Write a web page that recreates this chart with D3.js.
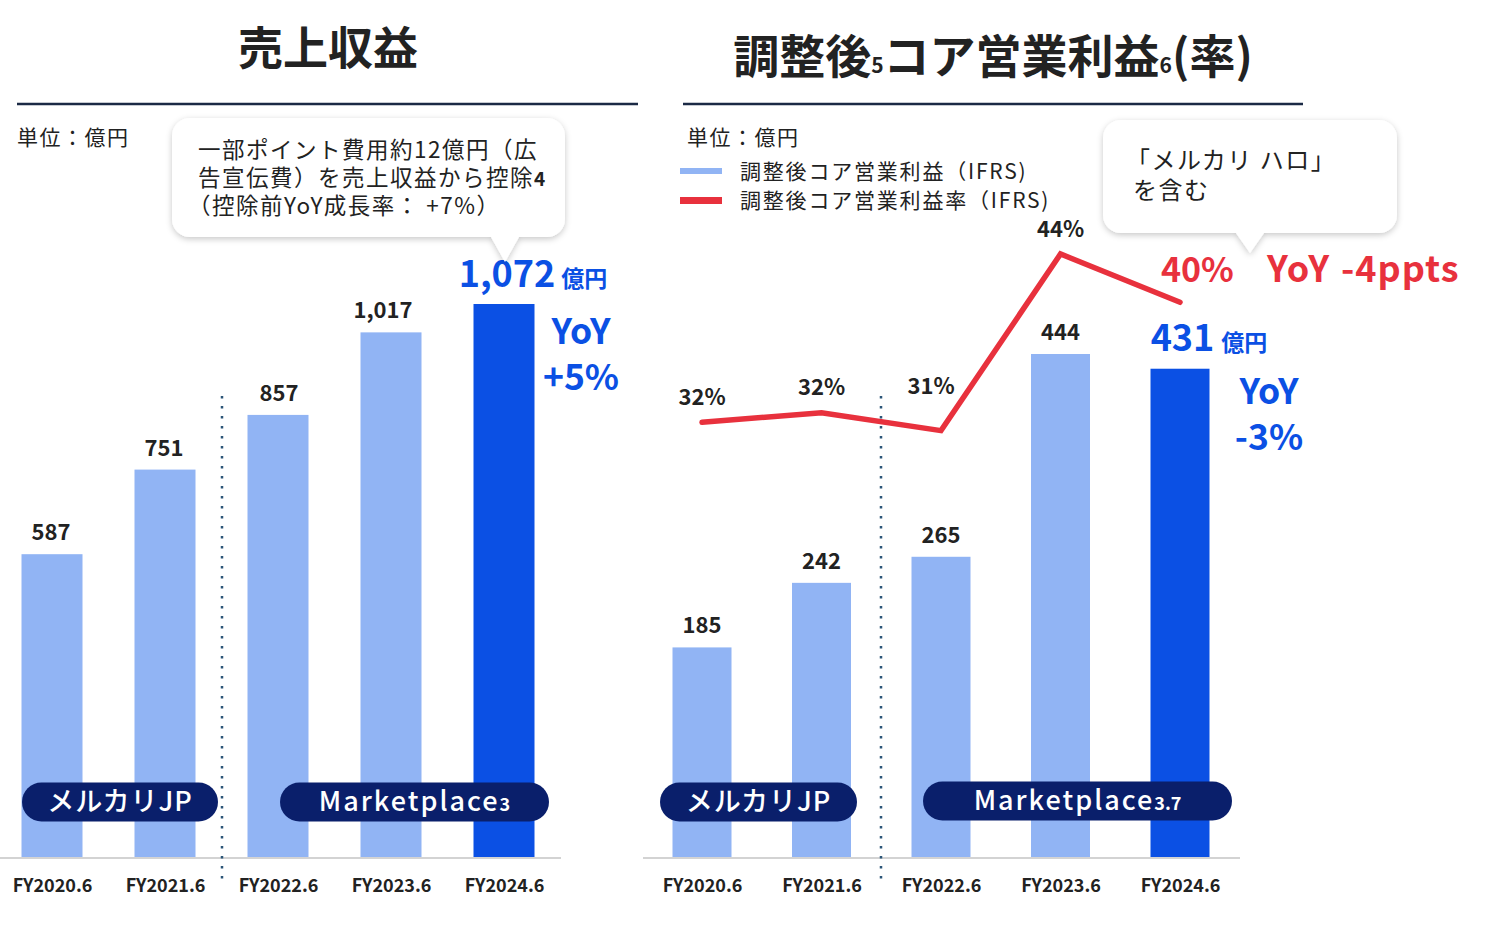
<!DOCTYPE html>
<html><head><meta charset="utf-8">
<script src="https://cdn.jsdelivr.net/npm/d3@7"></script>
<style>
html,body{margin:0;padding:0;background:#fff;}
svg{display:block;font-family:"Noto Sans CJK JP","Noto Sans",sans-serif;}
</style></head>
<body>
<svg id="chart" width="1492" height="928"></svg>
<script>
// ---- data ----
const categories = ["FY2020.6","FY2021.6","FY2022.6","FY2023.6","FY2024.6"];
const revenue = [587, 751, 857, 1017, 1072];
const revenueLabels = ["587","751","857","1,017","1,072"];
const coreProfit = [185, 242, 265, 444, 431];
const coreProfitLabels = ["185","242","265","444","431"];
const coreMargin = [31.5, 32.2, 30.9, 43.7, 40.2];
const coreMarginLabels = ["32%","32%","31%","44%","40%"];
const segmentLeft = ["メルカリJP","Marketplace"];
const legendItems = ["調整後コア営業利益（IFRS)","調整後コア営業利益率（IFRS)"];

const LIGHT = "#91b4f4", DARK = "#0b50e4", NAVY = "#0a1f6b", RED = "#e8313d", TXT = "#222";
const svg = d3.select("#chart");
const defs = svg.append("defs");
const f = defs.append("filter").attr("id","sh").attr("x","-10%").attr("y","-10%").attr("width","120%").attr("height","130%");
f.append("feDropShadow").attr("dx",0).attr("dy",2).attr("stdDeviation",3).attr("flood-color","#000").attr("flood-opacity",0.22);

function callout(g, x0, y0, x1, y1, px, ptip) {
  const r = 18;
  const p = d3.path();
  p.moveTo(x0 + r, y0);
  p.lineTo(x1 - r, y0); p.arcTo(x1, y0, x1, y0 + r, r);
  p.lineTo(x1, y1 - r); p.arcTo(x1, y1, x1 - r, y1, r);
  p.lineTo(px + 14, y1); p.lineTo(px, ptip); p.lineTo(px - 14, y1);
  p.lineTo(x0 + r, y1); p.arcTo(x0, y1, x0, y1 - r, r);
  p.lineTo(x0, y0 + r); p.arcTo(x0, y0, x0 + r, y0, r);
  p.closePath();
  g.append("path").attr("d", p.toString()).attr("fill","#fff").attr("filter","url(#sh)");
}

function pill(x0, x1, yc, h, label, sub, ls) {
  svg.append("rect").attr("x", x0).attr("y", yc - h/2).attr("width", x1 - x0).attr("height", h)
    .attr("rx", h/2).attr("fill", NAVY);
  const t = svg.append("text").attr("x", (x0 + x1)/2).attr("y", yc + 9).attr("text-anchor","middle")
    .attr("fill","#fff").attr("font-size", 27).attr("font-weight", 500).attr("letter-spacing", ls).text(label);
  if (sub) t.append("tspan").attr("font-size", 18).attr("font-weight", 700).attr("letter-spacing", 0).text(sub);
}

function divider(x) {
  svg.append("line").attr("x1", x).attr("x2", x).attr("y1", 396).attr("y2", 886)
    .attr("stroke","#2b5577").attr("stroke-width", 2.5).attr("stroke-dasharray","2.5,7.5");
}

// multi-line text block (one text element, wrapped lines as tspans)
function block(x, y, lines, lh, attrs, xs) {
  const t = svg.append("text").attr("x", x).attr("y", y);
  Object.entries(attrs).forEach(([k, v]) => t.attr(k, v));
  lines.forEach((ln, i) => {
    const s = t.append("tspan").attr("x", xs ? xs[i] : x).attr("y", y + i * lh);
    if (Array.isArray(ln)) {
      s.text(ln[0]);
      t.append("tspan").attr("font-weight", 700).attr("font-size", ln[2]).attr("letter-spacing", 0).text(ln[1]);
    } else s.text(ln);
  });
  return t;
}

const baseY = 857;

// ================= LEFT CHART =================
svg.append("text").attr("x", 328).attr("y", 65).attr("text-anchor","middle")
  .attr("font-size", 45).attr("font-weight", 700).attr("fill", TXT).text("売上収益");
svg.append("line").attr("x1", 17).attr("x2", 638).attr("y1", 104).attr("y2", 104).attr("stroke","#1b2a45").attr("stroke-width", 2.5);
svg.append("text").attr("x", 17).attr("y", 145).attr("font-size", 21).attr("letter-spacing", 1.5).attr("fill", TXT).text("単位：億円");

const xL = d3.scalePoint().domain(categories).range([52, 504]);
const yL = d3.scaleLinear().domain([0, 1072]).range([baseY, 304]);
const bwL = 61;

svg.append("line").attr("x1", 0).attr("x2", 561).attr("y1", baseY + 1).attr("y2", baseY + 1).attr("stroke","#d3d3d3").attr("stroke-width", 2);

svg.append("g").selectAll("rect").data(revenue).join("rect")
  .attr("x", (d,i) => xL(categories[i]) - bwL/2).attr("y", d => yL(d))
  .attr("width", bwL).attr("height", d => baseY - yL(d))
  .attr("fill", (d,i) => i === revenue.length - 1 ? DARK : LIGHT);

const rdx = [-1, -1, 1, -8];
svg.append("g").selectAll("text").data(revenue.slice(0, 4)).join("text")
  .attr("x", (d,i) => xL(categories[i]) + rdx[i]).attr("y", d => yL(d) - 14)
  .attr("text-anchor","middle").attr("font-size", 22).attr("font-weight", 700).attr("fill", TXT)
  .text((d,i) => revenueLabels[i]);

// highlight label
{
  const i = 4;
  const t = svg.append("text").attr("x", xL(categories[i]) + 29).attr("y", yL(revenue[i]) - 17)
    .attr("text-anchor","middle").attr("fill", DARK).attr("font-weight", 700);
  t.append("tspan").attr("font-size", 36).text(revenueLabels[i]);
  t.append("tspan").attr("font-size", 23).attr("dx", 6).text("億円");
  block(581, 344, ["YoY", "+5%"], 46, {"text-anchor":"middle", fill: DARK, "font-size": 35.5, "font-weight": 700});
}

divider(222);

const axL = svg.append("g").attr("transform", `translate(0,${baseY})`)
  .call(d3.axisBottom(xL).tickSize(0).tickPadding(22));
axL.select(".domain").remove();
axL.selectAll("text").attr("font-size", 18).attr("font-weight", 700).attr("fill", TXT)
  .attr("font-family", '"Noto Sans CJK JP","Noto Sans",sans-serif');

pill(22, 218, 802, 39, segmentLeft[0], null, 1);
pill(280, 549, 802, 39, segmentLeft[1], "3", 2);

const cL = svg.append("g");
callout(cL, 172, 118, 565, 237, 505, 262);
const calloutLeft = ["一部ポイント費用約12億円（広","告宣伝費）を売上収益から控除","（控除前YoY成長率： +7%）"];
block(198, 158, [calloutLeft[0], [calloutLeft[1], "4", 19], calloutLeft[2]], 28,
  {"font-size": 22.5, "letter-spacing": 1.5, fill: TXT}, [198, 198, 188]);

// ================= RIGHT CHART =================
{
  const t = svg.append("text").attr("x", 993).attr("y", 73).attr("text-anchor","middle")
    .attr("font-size", 46).attr("font-weight", 700).attr("fill", TXT);
  t.append("tspan").text("調整後");
  t.append("tspan").attr("font-size", 21).text("5");
  t.append("tspan").text("コア営業利益");
  t.append("tspan").attr("font-size", 21).text("6");
  t.append("tspan").text("(率)");
}
svg.append("line").attr("x1", 683).attr("x2", 1303).attr("y1", 104).attr("y2", 104).attr("stroke","#1b2a45").attr("stroke-width", 2.5);
svg.append("text").attr("x", 687).attr("y", 145).attr("font-size", 21).attr("letter-spacing", 1.5).attr("fill", TXT).text("単位：億円");

// legend
const lg = svg.append("g");
[LIGHT, RED].forEach((c, i) => {
  lg.append("rect").attr("x", 680).attr("y", 168 + i * 29).attr("width", 42).attr("height", i ? 7 : 6).attr("fill", c);
});
block(740, 179, legendItems, 29, {"font-size": 21, "letter-spacing": 1.8, fill: TXT});

const xR = d3.scalePoint().domain(categories).range([702, 1180]);
const yR = d3.scaleLinear().domain([0, 444]).range([baseY, 354]);
const yM = d3.scaleLinear().domain([0, 43.7]).range([baseY, 254]);
const bwR = 59;

svg.append("line").attr("x1", 643).attr("x2", 1240).attr("y1", baseY + 1).attr("y2", baseY + 1).attr("stroke","#d3d3d3").attr("stroke-width", 2);

svg.append("g").selectAll("rect").data(coreProfit).join("rect")
  .attr("x", (d,i) => xR(categories[i]) - bwR/2).attr("y", d => yR(d))
  .attr("width", bwR).attr("height", d => baseY - yR(d))
  .attr("fill", (d,i) => i === coreProfit.length - 1 ? DARK : LIGHT);

svg.append("g").selectAll("text").data(coreProfit.slice(0, 4)).join("text")
  .attr("x", (d,i) => xR(categories[i])).attr("y", d => yR(d) - 14)
  .attr("text-anchor","middle").attr("font-size", 22).attr("font-weight", 700).attr("fill", TXT)
  .text((d,i) => coreProfitLabels[i]);

{
  const i = 4;
  const t = svg.append("text").attr("x", xR(categories[i]) + 29).attr("y", yR(coreProfit[i]) - 18)
    .attr("text-anchor","middle").attr("fill", DARK).attr("font-weight", 700);
  t.append("tspan").attr("font-size", 36).text(coreProfitLabels[i]);
  t.append("tspan").attr("font-size", 23).attr("dx", 7).text("億円");
  block(1269, 404, ["YoY", "-3%"], 46, {"text-anchor":"middle", fill: DARK, "font-size": 35.5, "font-weight": 700});
}

// margin line
const line = d3.line().x((d,i) => xR(categories[i])).y(d => yM(d));
svg.append("path").attr("d", line(coreMargin)).attr("fill","none").attr("stroke", RED)
  .attr("stroke-width", 5.5).attr("stroke-linecap","round").attr("stroke-linejoin","miter");

const mdx = [0, 0, -10, 0];
const mdy = [17, 18, 37, 17];
svg.append("g").selectAll("text").data(coreMargin.slice(0, 4)).join("text")
  .attr("x", (d,i) => xR(categories[i]) + mdx[i]).attr("y", (d,i) => yM(d) - mdy[i])
  .attr("text-anchor","middle").attr("font-size", 22).attr("font-weight", 700).attr("fill", TXT)
  .text((d,i) => coreMarginLabels[i]);

svg.append("text").attr("x", 1161).attr("y", 282).attr("fill", RED)
  .attr("font-size", 34).attr("font-weight", 700).text(coreMarginLabels[4]);
{
  const t = svg.append("text").attr("x", 1267).attr("y", 282).attr("fill", RED)
    .attr("font-size", 36).attr("font-weight", 700).attr("letter-spacing", 1);
  t.append("tspan").text("YoY");
  t.append("tspan").attr("dx", 14).text("-4ppts");
}

divider(881);

const axR = svg.append("g").attr("transform", `translate(0,${baseY})`)
  .call(d3.axisBottom(xR).tickSize(0).tickPadding(22));
axR.select(".domain").remove();
axR.selectAll("text").attr("font-size", 18).attr("font-weight", 700).attr("fill", TXT)
  .attr("font-family", '"Noto Sans CJK JP","Noto Sans",sans-serif');

pill(660, 857, 802, 39, segmentLeft[0], null, 1);
pill(923, 1232, 801, 39, segmentLeft[1], "3.7", 2);

const cR = svg.append("g");
callout(cR, 1103, 120, 1397, 233, 1250, 253);
const calloutRight = ["「メルカリ ハロ」","を含む"];
block(1126, 169, calloutRight, 30, {"font-size": 24, "letter-spacing": 1.5, fill: TXT}, [1126, 1133]);
</script>
</body></html>
